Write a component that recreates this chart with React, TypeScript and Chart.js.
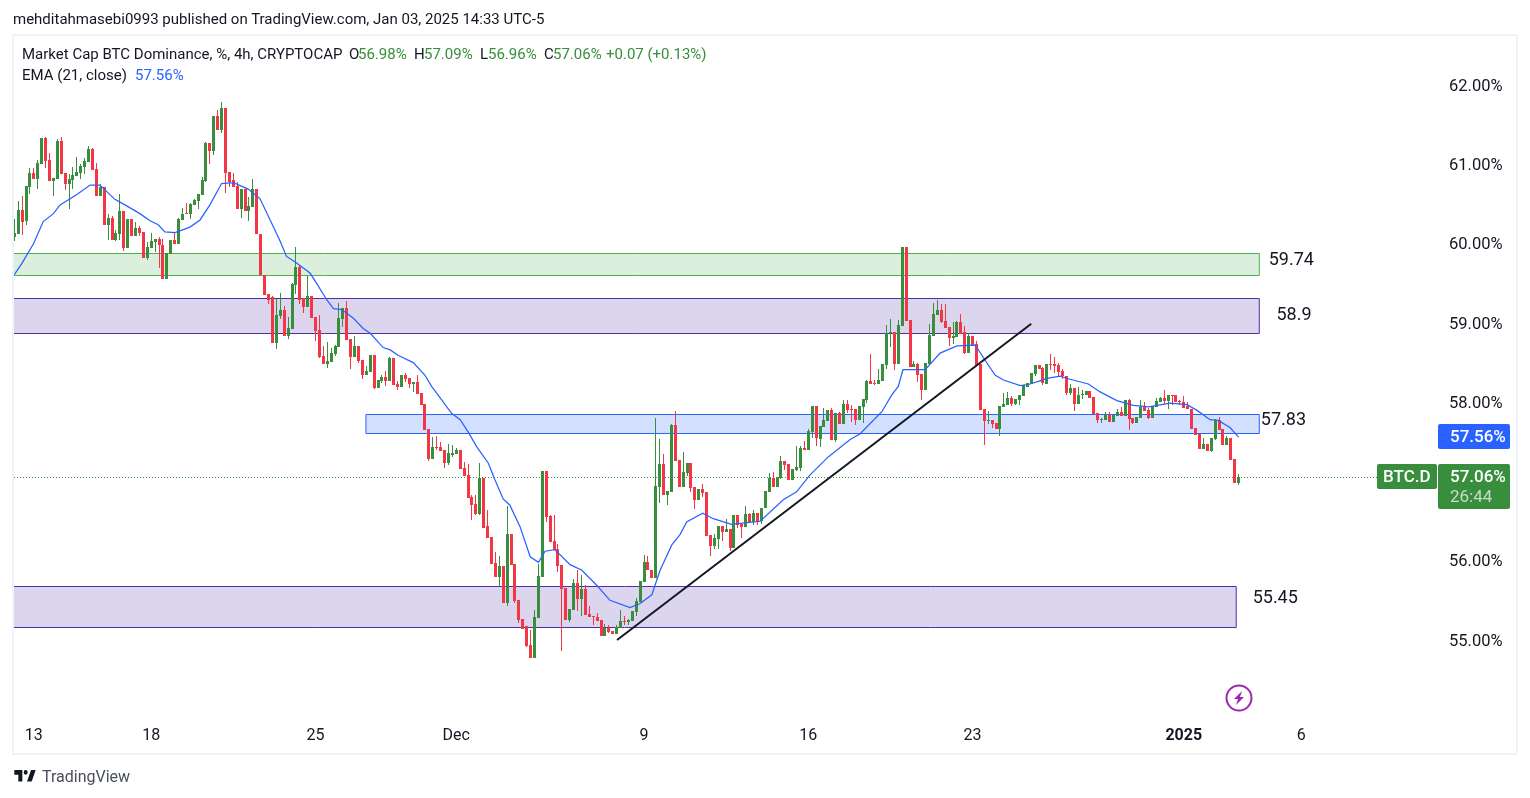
import React, { useEffect, useRef } from "react";
import { Chart, registerables } from "chart.js";

Chart.register(...registerables);

const opens = [
60.09,60.12,60.43,60.29,60.72,60.89,60.82,61.01,61.33,61.06,
60.79,60.82,61.30,60.89,60.75,60.80,60.85,60.89,60.97,61.03,
61.20,60.94,60.60,60.71,60.24,60.32,60.05,60.12,60.41,59.95,
60.31,60.10,60.20,60.15,59.82,59.95,60.02,60.06,59.99,59.56,
59.87,60.05,60.00,60.30,60.38,60.37,60.49,60.54,60.61,60.79,
61.27,61.17,61.61,61.44,61.71,60.90,60.80,60.73,60.44,60.69,
60.41,60.46,60.69,60.12,59.60,59.37,59.33,58.75,59.09,59.16,
58.84,58.92,59.48,59.71,59.31,59.20,59.34,59.08,58.91,58.58,
58.48,58.51,58.61,58.70,59.05,59.19,58.80,58.57,58.71,58.53,
58.34,58.38,58.60,58.18,58.27,58.32,58.27,58.56,58.23,58.19,
58.34,58.31,58.23,58.25,58.12,57.98,57.66,57.28,57.44,57.44,
57.40,57.23,57.34,57.35,57.40,57.17,57.08,56.80,56.72,56.59,
57.04,56.44,56.30,55.97,55.80,55.93,55.47,56.34,55.96,55.50,
55.26,55.17,54.94,54.77,55.28,55.79,57.13,56.56,56.25,56.15,
55.95,55.65,55.25,55.38,55.72,55.52,55.64,55.33,55.30,55.29,
55.25,55.05,55.15,55.11,55.08,55.15,55.24,55.23,55.24,55.35,
55.48,55.73,55.98,55.88,55.78,56.93,57.22,56.83,56.87,57.71,
57.27,56.93,57.11,57.23,56.93,56.77,56.90,56.87,56.32,56.19,
56.28,56.44,56.36,56.40,56.16,56.58,56.46,56.43,56.59,56.49,
56.60,56.50,56.66,56.87,57.04,56.93,57.04,57.26,57.22,57.02,
57.14,57.17,57.42,57.40,57.62,57.95,57.54,57.69,57.76,57.90,
57.52,57.86,57.73,57.98,57.91,57.91,57.77,57.94,58.03,58.27,
58.24,58.23,58.27,58.47,58.87,58.88,58.48,58.96,59.96,59.04,
58.44,58.48,58.36,58.15,58.48,58.84,59.10,59.16,59.02,58.95,
58.81,58.82,59.01,58.89,58.62,58.84,58.73,58.48,57.91,57.76,
57.77,57.74,57.66,57.94,57.97,58.05,57.98,58.03,58.08,58.19,
58.23,58.36,58.47,58.43,58.23,58.48,58.48,58.47,58.39,58.33,
58.12,58.18,57.98,58.09,58.09,58.14,58.07,57.86,57.78,57.78,
57.84,57.75,57.83,57.88,57.83,58.03,57.80,57.74,57.80,57.94,
57.90,57.80,57.94,58.00,58.05,58.01,58.09,58.09,58.01,58.00,
57.95,57.91,57.67,57.60,57.41,57.47,57.38,57.54,57.78,57.66,
57.46,57.55,57.28,56.98];

const highs = [
60.31,60.54,60.60,60.73,60.95,60.95,61.06,61.33,61.35,61.15,
60.83,61.32,61.35,60.89,60.88,60.97,61.09,61.00,61.08,61.23,
61.21,61.02,60.75,60.72,60.38,60.35,60.17,60.63,60.41,60.31,
60.31,60.27,60.22,60.15,60.02,60.14,60.06,60.09,60.06,59.88,
60.05,60.15,60.32,60.45,60.51,60.51,60.56,60.63,60.84,61.28,
61.27,61.61,61.69,61.79,61.71,60.90,60.89,60.78,60.69,60.69,
60.59,60.82,60.69,60.12,59.60,59.37,59.34,59.30,59.38,59.21,
59.08,59.50,59.96,59.73,59.31,59.59,59.34,59.08,59.10,58.71,
58.76,58.68,58.72,59.25,59.19,59.28,58.80,58.84,58.71,58.53,
58.46,58.60,58.60,58.28,58.34,58.39,58.57,58.56,58.27,58.34,
58.37,58.31,58.25,58.34,58.12,57.98,57.66,57.56,57.57,57.50,
57.40,57.47,57.46,57.42,57.40,57.25,57.22,56.83,56.83,57.23,
57.04,56.64,56.30,56.11,56.06,55.93,56.69,56.34,55.96,55.50,
55.26,55.17,55.13,55.38,55.96,57.13,57.13,56.58,56.58,56.21,
55.95,55.65,55.39,55.77,55.88,55.82,55.69,55.43,55.30,55.34,
55.25,55.20,55.19,55.11,55.19,55.38,55.30,55.26,55.37,55.53,
55.74,56.07,56.06,55.88,57.80,57.54,57.35,56.88,57.72,57.89,
57.27,57.37,57.23,57.23,56.93,56.90,56.97,56.87,56.32,56.34,
56.44,56.44,56.53,56.40,56.58,56.58,56.46,56.69,56.60,56.64,
56.60,56.67,56.88,57.11,57.12,57.06,57.32,57.26,57.22,57.16,
57.45,57.45,57.51,57.66,57.95,57.95,57.70,57.93,57.90,57.93,
57.86,57.88,58.03,58.03,57.97,57.91,57.95,58.04,58.28,58.61,
58.28,58.42,58.48,58.97,59.05,58.88,59.04,59.96,59.96,59.04,
58.52,58.49,58.36,58.49,58.99,59.25,59.29,59.24,59.24,58.95,
59.01,59.02,59.11,58.96,58.87,58.84,58.77,58.48,57.91,57.89,
57.77,57.74,57.95,58.12,58.13,58.08,58.04,58.09,58.22,58.24,
58.37,58.47,58.47,58.44,58.48,58.61,58.57,58.49,58.42,58.33,
58.23,58.18,58.19,58.15,58.14,58.14,58.07,57.86,57.80,57.88,
57.88,57.84,57.92,57.94,58.03,58.04,57.80,57.81,58.03,58.00,
57.93,57.95,58.05,58.07,58.15,58.09,58.09,58.09,58.03,58.08,
58.00,57.91,57.67,57.60,57.55,57.47,57.55,57.79,57.81,57.66,
57.57,57.55,57.28,57.09];

const lows = [
60.03,60.12,60.11,60.24,60.63,60.82,60.69,61.01,60.96,60.79,
60.60,60.82,60.88,60.68,60.44,60.69,60.85,60.82,60.88,61.03,
60.93,60.60,60.60,60.24,60.05,60.05,60.03,60.05,59.91,59.95,
60.10,60.10,60.10,59.82,59.79,59.95,59.90,59.69,59.56,59.56,
59.87,60.00,60.00,60.30,60.37,60.31,60.49,60.44,60.61,60.78,
61.01,61.12,61.44,61.40,60.64,60.72,60.72,60.44,60.32,60.41,
60.29,60.46,60.12,59.60,59.35,59.24,58.75,58.67,59.05,58.84,
58.80,58.92,59.37,59.24,59.13,59.20,59.06,58.77,58.56,58.48,
58.43,58.51,58.58,58.70,58.95,58.79,58.42,58.57,58.50,58.29,
58.34,58.38,58.17,58.18,58.24,58.20,58.27,58.22,58.15,58.19,
58.25,58.18,58.13,58.10,57.97,57.65,57.26,57.28,57.40,57.38,
57.17,57.21,57.31,57.35,57.16,57.07,56.79,56.51,56.58,56.58,
56.41,56.29,55.96,55.79,55.68,55.47,55.43,55.95,55.47,55.21,
55.14,54.91,54.77,54.77,55.28,55.79,56.49,56.24,56.13,55.86,
54.86,55.25,55.23,55.38,55.37,55.30,55.32,55.29,55.19,55.24,
55.05,55.05,55.09,55.08,55.08,55.15,55.19,55.19,55.24,55.30,
55.48,55.73,55.88,55.78,55.78,56.73,56.83,56.70,56.87,57.26,
56.93,56.93,57.07,56.87,56.65,56.77,56.80,56.31,56.06,56.15,
56.15,56.25,56.36,56.12,56.16,56.41,56.29,56.43,56.49,56.45,
56.45,56.46,56.66,56.87,56.93,56.93,57.03,57.14,57.02,57.02,
57.13,57.13,57.40,57.40,57.55,57.45,57.43,57.69,57.76,57.52,
57.50,57.73,57.73,57.86,57.75,57.71,57.77,57.74,57.99,58.23,
58.22,58.23,58.27,58.42,58.70,58.41,58.48,58.96,59.02,58.44,
58.44,58.25,58.03,58.15,58.48,58.84,59.10,59.00,58.94,58.71,
58.73,58.82,58.86,58.61,58.62,58.72,58.46,57.90,57.46,57.73,
57.67,57.66,57.57,57.94,57.97,57.95,57.97,57.97,58.08,58.19,
58.23,58.33,58.42,58.22,58.23,58.41,58.37,58.32,58.29,58.09,
58.09,57.89,57.98,58.04,58.09,58.05,57.85,57.74,57.74,57.78,
57.75,57.75,57.83,57.83,57.83,57.65,57.72,57.74,57.80,57.89,
57.79,57.80,57.94,58.00,57.98,57.91,57.97,58.00,57.96,57.93,
57.91,57.66,57.59,57.41,57.41,57.38,57.37,57.52,57.65,57.46,
57.46,57.27,56.98,56.96];

const closes = [
60.13,60.43,60.28,60.73,60.89,60.82,61.02,61.33,61.04,60.79,
60.83,61.30,60.88,60.75,60.82,60.87,60.91,60.98,61.04,61.20,
60.93,60.60,60.71,60.24,60.32,60.05,60.14,60.41,59.95,60.31,
60.10,60.20,60.14,59.82,59.96,60.03,60.06,59.98,59.56,59.88,
60.05,60.00,60.31,60.38,60.37,60.50,60.55,60.63,60.80,61.27,
61.17,61.61,61.44,61.71,60.89,60.78,60.72,60.44,60.69,60.41,
60.48,60.69,60.12,59.60,59.35,59.29,58.75,59.10,59.16,58.84,
58.94,59.49,59.71,59.29,59.20,59.34,59.06,58.90,58.57,58.48,
58.52,58.62,58.71,59.06,59.19,58.79,58.57,58.71,58.52,58.34,
58.39,58.60,58.18,58.28,58.32,58.27,58.56,58.22,58.19,58.34,
58.29,58.23,58.25,58.10,57.97,57.65,57.28,57.44,57.42,57.38,
57.23,57.36,57.36,57.40,57.16,57.07,56.79,56.70,56.59,57.04,
56.41,56.29,55.96,55.79,55.93,55.47,56.34,55.95,55.49,55.25,
55.14,54.93,54.77,55.29,55.81,57.13,56.55,56.24,56.13,55.93,
55.64,55.25,55.39,55.72,55.52,55.64,55.32,55.29,55.29,55.24,
55.05,55.15,55.10,55.08,55.16,55.24,55.23,55.25,55.37,55.49,
55.74,55.98,55.88,55.78,56.94,57.22,56.83,56.88,57.71,57.26,
56.93,57.12,57.23,56.92,56.77,56.90,56.85,56.31,56.19,56.29,
56.44,56.36,56.40,56.16,56.58,56.45,56.43,56.59,56.49,56.60,
56.49,56.67,56.88,57.04,56.93,57.06,57.26,57.21,57.02,57.16,
57.18,57.42,57.40,57.64,57.95,57.55,57.70,57.78,57.90,57.52,
57.86,57.73,57.98,57.90,57.90,57.77,57.95,58.04,58.27,58.23,
58.23,58.28,58.48,58.87,58.88,58.48,58.97,59.96,59.02,58.44,
58.48,58.34,58.15,58.49,58.85,59.11,59.16,59.01,58.94,58.81,
58.84,59.01,58.86,58.62,58.84,58.72,58.46,57.90,57.76,57.77,
57.73,57.66,57.95,57.98,58.05,57.98,58.04,58.09,58.22,58.24,
58.37,58.47,58.42,58.24,58.48,58.47,58.46,58.38,58.33,58.12,
58.18,57.98,58.09,58.10,58.14,58.05,57.85,57.78,57.79,57.84,
57.75,57.84,57.88,57.83,58.03,57.79,57.74,57.81,57.94,57.89,
57.80,57.95,58.02,58.05,58.01,58.09,58.08,58.00,58.00,57.93,
57.91,57.66,57.59,57.41,57.47,57.38,57.55,57.78,57.65,57.46,
57.55,57.27,56.98,57.06];

const emaIndex = [0,1.9,4.9,7.4,10,11.7,16,19.4,21.9,25.7,28.3,32.1,34.7,36.8,38.5,41.1,44.9,47.5,50,53,56,59.8,62.8,67.8,69.6,71.8,75.6,77.3,79.9,81.6,83.7,86.7,89.2,91,94.3,96.1,98.2,102,105,106.7,111.8,114,116.1,118.2,121.2,122.9,125,126.7,129.3,131.9,134,135.7,138.2,142.1,145.1,148.9,152.3,157.4,160,163,165.1,168.1,170.2,171.9,176,178.7,183.4,190.7,196.6,200,203.4,208.1,213.7,216.2,221.8,224.3,226,227.2,232.9,236.7,241,245.7,248.2,250.8,252.9,257.2,259.7,262.2,264,267.4,269.9,274.6,277.6,281.9,286.1,290,295.5,299.8,302.3,305.7,307.8,310.8,313];
const emaValues = [59.61,59.75,60.0,60.28,60.38,60.49,60.62,60.74,60.74,60.56,60.49,60.38,60.29,60.24,60.15,60.14,60.21,60.30,60.49,60.76,60.77,60.69,60.57,60.05,59.84,59.77,59.63,59.50,59.29,59.18,59.17,59.06,58.93,58.87,58.69,58.66,58.59,58.50,58.34,58.20,57.86,57.78,57.62,57.44,57.23,57.02,56.78,56.70,56.43,56.05,55.98,56.12,56.14,55.95,55.88,55.69,55.50,55.41,55.46,55.57,55.88,56.20,56.33,56.49,56.60,56.53,56.46,56.50,56.77,56.87,57.08,57.31,57.53,57.60,57.88,58.09,58.20,58.41,58.41,58.62,58.71,58.72,58.53,58.34,58.28,58.21,58.23,58.27,58.30,58.33,58.29,58.23,58.13,58.02,57.96,57.94,57.99,57.97,57.90,57.78,57.77,57.68,57.56];

const trendIndex = [154.1, 260];
const trendValues = [55.0, 58.99];

const xTickIndex = [5, 35, 77, 113, 161, 203, 245, 299, 329];
const xTickLabels = ["13", "18", "25", "Dec", "9", "16", "23", "2025", "6"];
const yTickValues = [55, 56, 58, 59, 60, 61, 62];

const zoneFrom = [-1, -1, 89.9, -1];
const zoneTo = [318.3, 318.3, 318.3, 312.4];
const zoneTop = [59.88, 59.32, 57.85, 55.68];
const zoneBottom = [59.61, 58.87, 57.61, 55.16];
const zoneFill = ["rgba(76,175,80,0.2)", "rgba(81,45,168,0.2)", "rgba(41,98,255,0.2)", "rgba(81,45,168,0.2)"];
const zoneLine = ["#4caf50", "#512da8", "#2962ff", "#512da8"];

const zoneLabels = ["59.74", "58.9", "57.83", "55.45"];
const zoneLabelIndex = [320.7, 322.7, 318.7, 316.6];
const zoneLabelValue = [59.79, 59.09, 57.77, 55.52];

const GREEN = "#388e3c";
const RED = "#f23645";
const BLUE = "#2962ff";
const INK = "#131722";
const FONT = "Roboto, sans-serif";

const lastClose = 57.06;
const lastEma = 57.56;

const roundBox = (c: any, x: number, y: number, w: number, h: number, color: string) => {
  c.fillStyle = color;
  c.beginPath();
  c.roundRect(x, y, w, h, 2);
  c.fill();
};

const overlay = {
  id: "overlay",
  beforeDatasetsDraw(chart: any) {
    chart.getSortedVisibleDatasetMetas().forEach((m: any) => {
      if (m.type !== "bar") return;
      m.data.forEach((el: any) => {
        el.x = Math.floor(el.x) + 0.5;
        el.y = Math.round(el.y);
        el.base = Math.round(el.base);
      });
    });
    const { ctx: c, scales, chartArea } = chart;
    const x = scales.x, y = scales.y;
    c.save();
    zoneTop.forEach((t, i) => {
      const l = Math.max(x.getPixelForValue(zoneFrom[i]), chartArea.left - 1);
      const r = x.getPixelForValue(zoneTo[i]);
      const a = Math.round(y.getPixelForValue(t)) + 0.5;
      const b = Math.round(y.getPixelForValue(zoneBottom[i])) + 0.5;
      c.fillStyle = zoneFill[i];
      c.fillRect(l, a, r - l, b - a);
      c.strokeStyle = zoneLine[i];
      c.lineWidth = 1;
      c.beginPath();
      c.moveTo(l, a);
      c.lineTo(r, a);
      c.lineTo(r, b);
      c.lineTo(l, b);
      if (zoneFrom[i] >= 0) c.closePath();
      c.stroke();
    });
    const py = Math.round(y.getPixelForValue(lastClose)) + 0.5;
    c.strokeStyle = GREEN;
    c.setLineDash([1, 2]);
    c.beginPath();
    c.moveTo(chartArea.left, py);
    c.lineTo(1377, py);
    c.stroke();
    c.restore();
  },
  afterDraw(chart: any) {
    const { ctx: c, scales } = chart;
    const x = scales.x, y = scales.y;
    c.save();
    c.strokeStyle = "#f0f3fa";
    c.lineWidth = 2;
    c.strokeRect(13, 35, 1504, 719);
    c.textBaseline = "middle";
    c.textAlign = "left";
    c.font = `18px ${FONT}`;
    c.fillStyle = INK;
    zoneLabels.forEach((t, i) => {
      c.fillText(t, x.getPixelForValue(zoneLabelIndex[i]), y.getPixelForValue(zoneLabelValue[i]));
    });
    const py = Math.round(y.getPixelForValue(lastClose));
    const ey = Math.round(y.getPixelForValue(lastEma));
    roundBox(c, 1438, ey - 13, 72, 25, BLUE);
    roundBox(c, 1377, py - 13, 60, 25, GREEN);
    roundBox(c, 1438, py - 13, 72, 45, GREEN);
    c.font = `500 17px ${FONT}`;
    c.fillStyle = "#ffffff";
    c.fillText("57.56%", 1450, ey + 1);
    c.fillText("57.06%", 1450, py + 1);
    c.fillText("BTC.D", 1383, py + 1);
    c.fillStyle = "rgba(255,255,255,0.7)";
    c.font = `17px ${FONT}`;
    c.fillText("26:44", 1450, py + 21);
    c.restore();
  },
};

const legendBits: [string, number, string][] = [
  ["Market Cap BTC Dominance, %, 4h, CRYPTOCAP", 22, INK],
  ["O", 349, INK], ["56.98%", 358, GREEN],
  ["H", 414, INK], ["57.09%", 424, GREEN],
  ["L", 480, INK], ["56.96%", 488, GREEN],
  ["C", 544, INK], ["57.06%", 553, GREEN],
  ["+0.07 (+0.13%)", 606, GREEN],
];

const abs = (left: number, top: number, extra: any = {}) => ({
  position: "absolute" as const, left, top, whiteSpace: "nowrap" as const, ...extra,
});

export default function App() {
  const ref = useRef<HTMLCanvasElement | null>(null);
  useEffect(() => {
    const all = closes.map((_, i) => i);
    const colors = all.map((i) => (closes[i] >= opens[i] ? GREEN : RED));
    const chart = new Chart(ref.current as any, {
      type: "bar",
      data: {
        datasets: [
          {
            type: "line",
            data: trendIndex.map((v, i) => ({ x: v, y: trendValues[i] })),
            borderColor: "#131722",
            borderWidth: 2,
            pointRadius: 0,
            order: 0,
          },
          {
            type: "line",
            data: emaIndex.map((v, i) => ({ x: v, y: emaValues[i] })),
            borderColor: BLUE,
            borderWidth: 1.25,
            pointRadius: 0,
            order: 1,
          },
          {
            data: all.map((i) => ({ x: i, y: [opens[i], closes[i]] })),
            backgroundColor: colors,
            barThickness: 3,
            minBarLength: 1,
            grouped: false,
            inflateAmount: 0,
            order: 2,
          },
          {
            data: all.map((i) => ({ x: i, y: [lows[i], highs[i]] })),
            backgroundColor: colors,
            barThickness: 1,
            grouped: false,
            inflateAmount: 0,
            order: 3,
          },
        ],
      } as any,
      options: {
        animation: false,
        responsive: false,
        maintainAspectRatio: false,
        layout: { padding: { left: 14, right: 13, top: 35, bottom: 44 } },
        plugins: { legend: { display: false }, tooltip: { enabled: false }, title: { display: false } },
        scales: {
          x: {
            type: "linear",
            offset: false,
            min: -0.077,
            max: 364.5,
            grid: { display: false, drawTicks: false },
            border: { display: false },
            afterBuildTicks: (s: any) => { s.ticks = xTickIndex.map((value) => ({ value })); },
            afterFit: (s: any) => { s.height = 34; },
            ticks: {
              autoSkip: false,
              maxRotation: 0,
              padding: 6,
              color: INK,
              font: (ctx: any) => ({ family: FONT, size: 16, weight: ctx.tick && ctx.tick.value === 299 ? "bold" : "normal" }),
              callback: (v: any) => xTickLabels[xTickIndex.indexOf(v)] ?? "",
            },
          },
          y: {
            type: "linear",
            position: "right",
            min: 53.99,
            max: 62.634,
            grid: { display: false, drawTicks: false },
            border: { display: false },
            afterBuildTicks: (s: any) => { s.ticks = yTickValues.map((value) => ({ value })); },
            afterFit: (s: any) => { s.width = 77; },
            ticks: {
              padding: 9,
              labelOffset: 1.5,
              color: INK,
              font: { family: FONT, size: 16.5 },
              callback: (v: any) => `${Number(v).toFixed(2)}%`,
            },
          },
        },
      } as any,
      plugins: [overlay],
    });
    return () => chart.destroy();
  }, []);

  return (
    <div style={{ position: "fixed", left: 0, top: 0, width: 1530, height: 798, overflow: "hidden", background: "#fff", color: INK, fontFamily: FONT, fontSize: 15, lineHeight: "18px" }}>
      <canvas ref={ref} width={1530} height={798} style={{ display: "block", width: 1530, height: 798 }} />
      <div style={abs(13, 10, { fontSize: 15 })}>mehditahmasebi0993 published on TradingView.com, Jan 03, 2025 14:33 UTC-5</div>
      {legendBits.map(([t, x, color]) => (
        <div key={t + x} style={abs(x, 45, { color })}>{t}</div>
      ))}
      <div style={abs(22, 66)}>EMA (21, close)</div>
      <div style={abs(135, 66, { color: BLUE })}>57.56%</div>
      <svg style={abs(13, 770)} width="24" height="12" viewBox="0 6 36 15.5" preserveAspectRatio="none">
        <path fill={INK} d="M14 6H2v6h6v9h6V6zm14 15h-7l6-15h7l-6 15zm-9-9a3 3 0 1 0 0-6 3 3 0 0 0 0 6z" />
      </svg>
      <div style={abs(42, 768, { fontSize: 16, color: "#4a4f5c" })}>TradingView</div>
      <svg style={abs(1225, 684)} width="28" height="28" viewBox="0 0 28 28">
        <circle cx="14" cy="14" r="12.5" fill="none" stroke="#9c27b0" strokeWidth="2" />
        <path fill="#9c27b0" d="M17 7 L9 15 L13 15 L11 21 L19 13 L15 13 Z" />
      </svg>
    </div>
  );
}
